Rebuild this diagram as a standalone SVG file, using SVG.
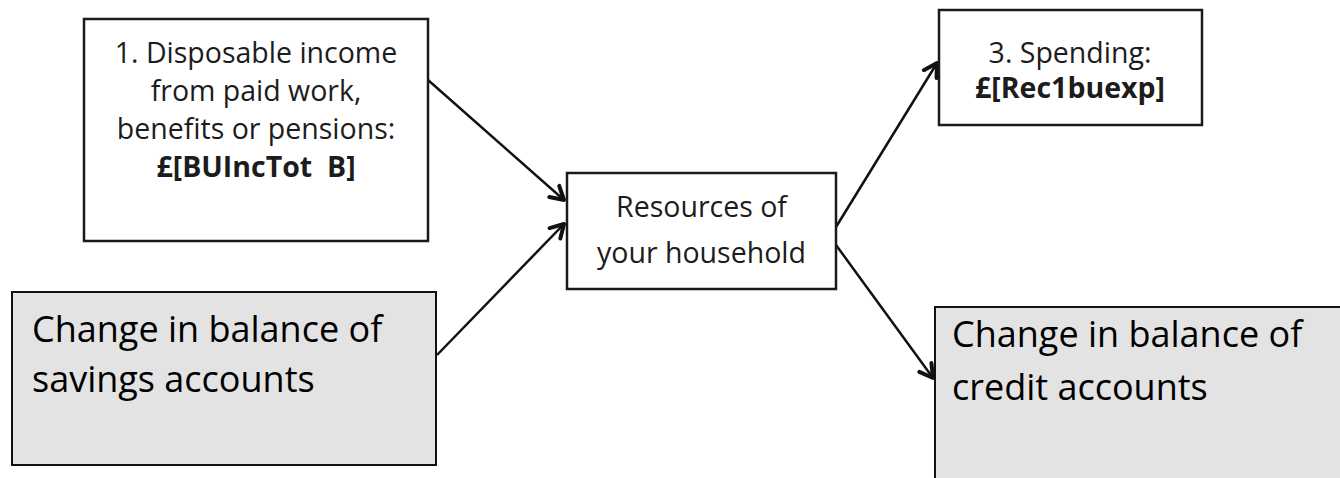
<svg xmlns="http://www.w3.org/2000/svg" width="1340" height="478" viewBox="0 0 1340 478">
  <style>
    .box { fill: #ffffff; stroke: #1a1a1a; stroke-width: 2.5; }
    .gbox { fill: #e3e3e3; stroke: #111111; stroke-width: 2; }
    .t { font-family: "Open Sans", "Liberation Sans", sans-serif; font-size: 28.5px; fill: #1c1c1c; text-anchor: middle; }
    .tb { font-weight: bold; }
    .big { font-family: "Open Sans", "Liberation Sans", sans-serif; font-size: 36px; fill: #000000; }
    .conn { stroke: #111111; stroke-width: 2.5; fill: none; marker-end: url(#arr); }
  </style>
  <defs>
    <marker id="arr" markerUnits="userSpaceOnUse" markerWidth="22" markerHeight="20" refX="15" refY="8" orient="auto" viewBox="0 0 22 16">
      <path d="M2,0.5 L15,8 L2,15.5" fill="none" stroke="#111111" stroke-width="4" stroke-linecap="round" stroke-linejoin="round"/>
    </marker>
  </defs>
  <rect width="1340" height="478" fill="#ffffff"/>

  <g id="connectors">
    <line class="conn" x1="428" y1="80" x2="564" y2="200"/>
    <line class="conn" x1="437" y1="355" x2="564" y2="224"/>
    <line class="conn" x1="836" y1="227" x2="937" y2="63"/>
    <line class="conn" x1="836" y1="245" x2="933" y2="378"/>
  </g>

  <g id="income">
    <rect class="box" x="84" y="19" width="344" height="222"/>
    <text class="t" x="256" y="63">1. Disposable income</text>
    <text class="t" x="256" y="101">from paid work,</text>
    <text class="t" x="256" y="139">benefits or pensions:</text>
    <text class="t tb" x="256" y="177" xml:space="preserve">£[BUIncTot  B]</text>
  </g>

  <g id="resources">
    <rect class="box" x="567" y="173" width="269" height="116"/>
    <text class="t" x="701.5" y="217">Resources of</text>
    <text class="t" x="701.5" y="263">your household</text>
  </g>

  <g id="spending">
    <rect class="box" x="939" y="10" width="263" height="115"/>
    <text class="t" x="1070" y="63">3. Spending:</text>
    <text class="t tb" x="1070" y="98">£[Rec1buexp]</text>
  </g>

  <g id="savings">
    <rect class="gbox" x="12" y="292" width="424" height="173"/>
    <text class="big" x="32" y="342">Change in balance of</text>
    <text class="big" x="32" y="392">savings accounts</text>
  </g>

  <g id="credit">
    <rect class="gbox" x="935" y="307" width="420" height="190"/>
    <text class="big" x="952" y="347">Change in balance of</text>
    <text class="big" x="952" y="400">credit accounts</text>
  </g>
</svg>
